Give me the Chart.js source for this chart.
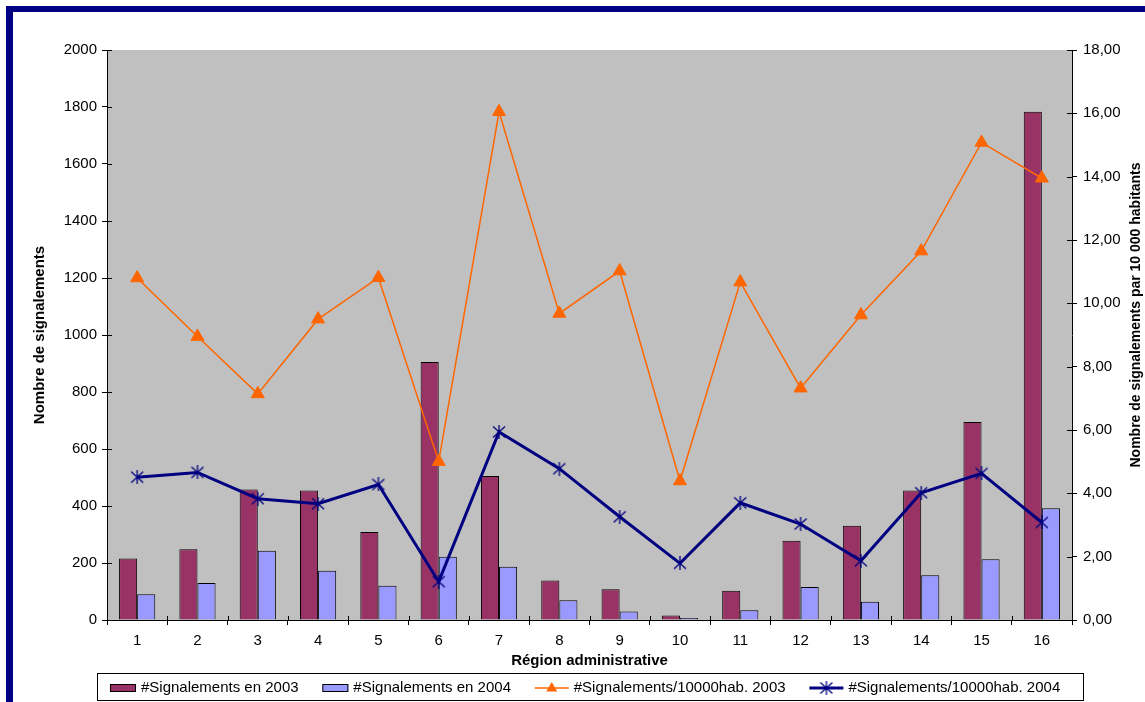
<!DOCTYPE html>
<html lang="fr">
<head>
<meta charset="utf-8">
<title>Signalements par région administrative</title>
<script src="https://cdn.jsdelivr.net/npm/chart.js@4.4.1/dist/chart.umd.min.js"></script>
<style>
  html, body { margin: 0; padding: 0; background: #ffffff; }
  body { width: 1145px; height: 702px; overflow: hidden; position: relative; }
  #frame {
    position: absolute; left: 6px; top: 6px; width: 1300px; height: 900px;
    border-left: 7px solid #000080; border-top: 6px solid #000080;
  }
  #wrap { position: absolute; left: 13px; top: 12px; width: 1132px; height: 690px; background: #ffffff; }
</style>
</head>
<body>
<div id="frame"></div>
<div id="wrap"><canvas id="chart"></canvas></div>
<script>
// Régions administratives (axe des catégories)
const regions = ['1', '2', '3', '4', '5', '6', '7', '8', '9', '10', '11', '12', '13', '14', '15', '16'];

// Nombre de signalements (axe de gauche)
const signalements2003 = [216, 248, 458, 454, 309, 905, 505, 139, 108, 16, 103, 278, 331, 454, 695, 1783];
const signalements2004 = [90, 130, 243, 173, 120, 222, 187, 69, 30, 7, 34, 116, 64, 157, 213, 392];

// Signalements pour 10 000 habitants (axe de droite)
const taux2003 = [10.80, 8.95, 7.14, 9.50, 10.81, 5.00, 16.05, 9.68, 11.02, 4.39, 10.67, 7.32, 9.63, 11.65, 15.08, 13.95];
const taux2004 = [4.51, 4.66, 3.83, 3.67, 4.28, 1.21, 5.94, 4.78, 3.26, 1.79, 3.70, 3.03, 1.87, 4.02, 4.63, 3.08];

// Libellés des séries et des axes
const seriesLabels = [
  '#Signalements en 2003',
  '#Signalements en 2004',
  '#Signalements/10000hab. 2003',
  '#Signalements/10000hab. 2004'
];
const axisTitleLeft = 'Nombre de signalements';
const axisTitleRight = 'Nombre de signalements par 10 000 habitants';
const axisTitleX = 'Région administrative';

const FONT_FAMILY = '"Liberation Sans", Arial, Helvetica, sans-serif';
const COLORS = {
  bar2003: '#993366',
  bar2004: '#9999FF',
  line2003: '#FF6600',
  line2004: '#000080',
  plot: '#C0C0C0'
};

// Marqueur « étoile » : croix en X traversée d'un trait vertical
function makeStarMarker(size, color) {
  const c = document.createElement('canvas');
  c.width = size; c.height = size;
  const g = c.getContext('2d');
  g.strokeStyle = color;
  g.lineWidth = 1.3;
  g.beginPath();
  g.moveTo(1, 1.5); g.lineTo(size - 1, size - 1.5);
  g.moveTo(size - 1, 1.5); g.lineTo(1, size - 1.5);
  g.moveTo(size / 2, 0); g.lineTo(size / 2, size);
  g.stroke();
  return c;
}
const starMarker = makeStarMarker(14, COLORS.line2004);

// Fond gris de la zone de tracé
const plotBackground = {
  id: 'plotBackground',
  beforeDraw(chart) {
    const { ctx, chartArea: a } = chart;
    ctx.save();
    ctx.fillStyle = COLORS.plot;
    ctx.fillRect(a.left, a.top, a.right - a.left, a.bottom - a.top);
    ctx.restore();
  }
};

// Graduations qui traversent les axes (partie intérieure)
const innerTicks = {
  id: 'innerTicks',
  afterDraw(chart) {
    const { ctx, chartArea: a, scales } = chart;
    ctx.save();
    ctx.strokeStyle = '#000';
    ctx.lineWidth = 1;
    ctx.beginPath();
    scales.y.ticks.forEach(t => {
      const py = Math.round(scales.y.getPixelForValue(t.value)) + 0.5;
      ctx.moveTo(a.left, py); ctx.lineTo(a.left + 5, py);
    });
    scales.y1.ticks.forEach(t => {
      const py = Math.round(scales.y1.getPixelForValue(t.value)) + 0.5;
      ctx.moveTo(a.right - 5, py); ctx.lineTo(a.right, py);
    });
    const xs = scales.x;
    const step = xs.getPixelForValue(1) - xs.getPixelForValue(0);
    for (let i = 0; i <= regions.length; i++) {
      const px = Math.round(xs.getPixelForValue(0) - step / 2 + i * step) + 0.5;
      ctx.moveTo(px, a.bottom); ctx.lineTo(px, a.bottom - 4);
    }
    ctx.stroke();
    ctx.restore();
  }
};

// Titre de l'axe de droite, lu de bas en haut comme celui de gauche
const rightAxisTitle = {
  id: 'rightAxisTitle',
  afterDraw(chart) {
    const { ctx, chartArea: a } = chart;
    const s = chart.scales.y1;
    ctx.save();
    ctx.font = 'bold 14px ' + FONT_FAMILY;
    ctx.fillStyle = '#000';
    ctx.textAlign = 'center';
    ctx.textBaseline = 'middle';
    ctx.translate(s.right - 9, (a.top + a.bottom) / 2 - 20);
    ctx.rotate(-Math.PI / 2);
    ctx.fillText(axisTitleRight, 0, 0);
    ctx.restore();
  }
};

// Légende encadrée sous le graphique
const boxedLegend = {
  id: 'boxedLegend',
  afterDraw(chart) {
    const ctx = chart.ctx;
    const box = { left: 84, top: 661, right: 1071, bottom: 689 };
    ctx.save();
    ctx.fillStyle = '#fff';
    ctx.fillRect(box.left, box.top, box.right - box.left, box.bottom - box.top);
    ctx.strokeStyle = '#000';
    ctx.lineWidth = 1;
    ctx.strokeRect(box.left + 0.5, box.top + 0.5, box.right - box.left - 1, box.bottom - box.top - 1);

    ctx.font = '15px ' + FONT_FAMILY;
    ctx.textBaseline = 'middle';
    const datasets = chart.data.datasets;
    const items = datasets.map(ds => ({
      ds,
      sw: ds.type === 'line' ? 34 : 26,
      tw: ctx.measureText(ds.label).width
    }));
    const used = items.reduce((s, it) => s + it.sw + 5 + it.tw, 0);
    const gap = (box.right - box.left - used) / (items.length + 1);
    const cy = (box.top + box.bottom) / 2 + 1;
    let x = box.left + gap * 0.6;
    items.forEach((it, i) => {
      const ds = it.ds;
      if (ds.type === 'line') {
        ctx.strokeStyle = ds.borderColor;
        ctx.lineWidth = ds.borderWidth;
        ctx.beginPath();
        ctx.moveTo(x, cy); ctx.lineTo(x + it.sw, cy);
        ctx.stroke();
        const mx = x + it.sw / 2;
        if (ds.pointStyle === 'triangle') {
          ctx.fillStyle = ds.pointBackgroundColor;
          ctx.beginPath();
          ctx.moveTo(mx, cy - 6); ctx.lineTo(mx + 5.5, cy + 3.5); ctx.lineTo(mx - 5.5, cy + 3.5);
          ctx.closePath();
          ctx.fill();
        } else {
          ctx.drawImage(starMarker, mx - 7, cy - 7);
        }
      } else {
        ctx.fillStyle = ds.backgroundColor;
        ctx.fillRect(x, cy - 4, it.sw, 8);
        ctx.strokeStyle = '#000';
        ctx.lineWidth = 1;
        ctx.strokeRect(x + 0.5, cy - 3.5, it.sw - 1, 7);
      }
      ctx.fillStyle = '#000';
      ctx.fillText(ds.label, x + it.sw + 5, cy);
      x += it.sw + 5 + it.tw + gap * (i === items.length - 1 ? 0 : 1.1);
    });
    ctx.restore();
  }
};

const tickFont = { family: FONT_FAMILY, size: 15 };
const titleFont = { family: FONT_FAMILY, size: 15, weight: 'bold' };

new Chart(document.getElementById('chart'), {
  type: 'bar',
  data: {
    labels: regions,
    datasets: [
      {
        type: 'bar', label: seriesLabels[0], data: signalements2003, yAxisID: 'y', order: 1,
        backgroundColor: COLORS.bar2003, borderColor: '#000', borderWidth: 1,
        categoryPercentage: 0.6, barPercentage: 1.0
      },
      {
        type: 'bar', label: seriesLabels[1], data: signalements2004, yAxisID: 'y', order: 1,
        backgroundColor: COLORS.bar2004, borderColor: '#000', borderWidth: 1,
        categoryPercentage: 0.6, barPercentage: 1.0
      },
      {
        type: 'line', label: seriesLabels[2], data: taux2003, yAxisID: 'y1', order: 0,
        borderColor: COLORS.line2003, borderWidth: 1.5, tension: 0, fill: false,
        pointStyle: 'triangle', pointRadius: 7.5, pointHoverRadius: 7.5,
        pointBackgroundColor: COLORS.line2003, pointBorderColor: COLORS.line2003, pointBorderWidth: 1
      },
      {
        type: 'line', label: seriesLabels[3], data: taux2004, yAxisID: 'y1', order: 0,
        borderColor: COLORS.line2004, borderWidth: 3, tension: 0, fill: false,
        pointStyle: starMarker, pointRadius: 7, pointHoverRadius: 7
      }
    ]
  },
  options: {
    responsive: true,
    maintainAspectRatio: false,
    devicePixelRatio: 1,
    animation: false,
    layout: { padding: { top: 38, left: 0, right: 0, bottom: 0 } },
    plugins: { legend: { display: false }, tooltip: { enabled: false } },
    scales: {
      x: {
        offset: true,
        grid: { display: true, offset: true, drawOnChartArea: false, drawTicks: true, tickLength: 5, color: '#000' },
        border: { display: true, color: '#000', width: 1 },
        ticks: { color: '#000', font: tickFont, padding: 7, maxRotation: 0, autoSkip: false },
        title: { display: true, text: axisTitleX, color: '#000', font: titleFont, padding: { top: 0, bottom: 32 } },
        afterFit(scale) { scale.height = 82; }
      },
      y: {
        position: 'left', min: 0, max: 2000,
        grid: { drawOnChartArea: false, drawTicks: true, tickLength: 5, color: '#000' },
        border: { display: true, color: '#000', width: 1 },
        ticks: { stepSize: 200, color: '#000', font: tickFont, padding: 5, callback: v => String(v) },
        title: { display: true, text: axisTitleLeft, color: '#000', font: titleFont, padding: { top: 18, bottom: 0 } },
        afterFit(scale) { scale.width = 94; }
      },
      y1: {
        position: 'right', min: 0, max: 18,
        grid: { drawOnChartArea: false, drawTicks: true, tickLength: 5, color: '#000' },
        border: { display: true, color: '#000', width: 1 },
        ticks: {
          stepSize: 2, color: '#000', font: tickFont, padding: 6,
          callback: v => Number(v).toFixed(2).replace('.', ',')
        },
        title: { display: false },
        afterFit(scale) { scale.width = 73; }
      }
    }
  },
  plugins: [plotBackground, innerTicks, rightAxisTitle, boxedLegend]
});
</script>
</body>
</html>
